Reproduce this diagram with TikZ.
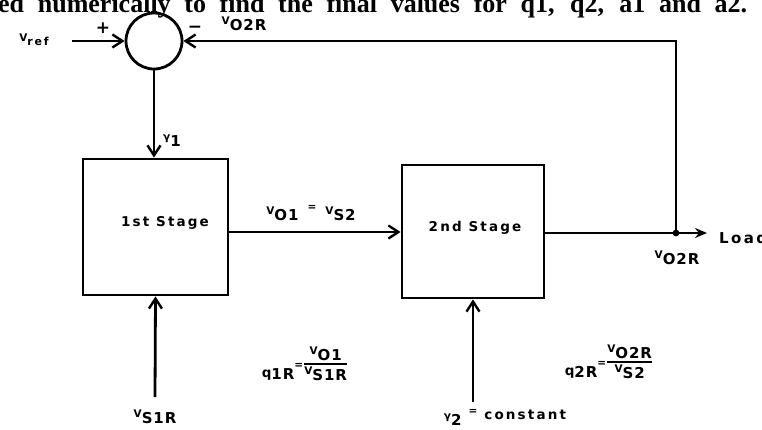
\documentclass[tikz,border=0pt]{standalone}
\usepackage{fontspec}
\usepackage{amsmath}
\usetikzlibrary{arrows.meta}
\newfontfamily\lbl{DejaVu Sans}[LetterSpace=16]
\newfontfamily\sblbl{DejaVu Sans}[LetterSpace=6]
\newfontfamily\toptext{Liberation Serif}
\newcommand\Sb[1]{\raisebox{-6pt}{\fontsize{15}{15}\sblbl\bfseries #1}}
\newcommand\Sm[1]{{\fontsize{10.5}{10.5}\lbl\bfseries #1}}
\newcommand\Vx[1]{\Sm{V}\Sb{#1}}
\tikzset{
  lab/.style={font=\fontsize{13.5}{13.5}\lbl\bfseries, inner sep=0pt},
  blk/.style={draw, line width=2.8pt, inner sep=0pt},
  arr/.style={line width=2.8pt, -{Straight Barb[length=10pt,width=13pt,line width=2.4pt]}},
  wire/.style={line width=2.8pt}
}
\begin{document}
\begin{tikzpicture}[x=1pt,y=-1pt]
\useasboundingbox (0,0) rectangle (762,429);
\clip (0,0) rectangle (762,429);
\fill[white] (0,0) rectangle (762,429);

% cropped line of text from the page above
\node[anchor=base west, inner sep=0pt, font=\fontsize{26}{26}\toptext\bfseries] (toptxt) at (-2,12)
  {\makebox[749pt][s]{ed numerically to find the final values for q1, q2, a1 and a2.}};

% summing junction
\node[circle, draw, line width=2.8pt, minimum size=56pt, inner sep=0pt] (sum) at (154,41) {};
\node[font=\fontsize{17}{17}\lbl\bfseries, inner sep=0pt] (plus) at (103,28) {+};
\node[font=\fontsize{17}{17}\lbl\bfseries, inner sep=0pt] (minus) at (195,29) {−};
\node[lab] (vref) at (34,40) {\Sm{V}\raisebox{-4pt}{\fontsize{11}{11}\lbl\bfseries ref}};
\coordinate (vin) at (72,41);
\node[lab] (vo2rtop) at (244,24) {\Vx{O2R}};

% blocks
\node[blk, minimum width=145pt, minimum height=136pt] (s1) at (155.5,227) {};
\node[lab] (t1) at (165,223) {1st Stage};
\node[blk, minimum width=142pt, minimum height=133pt] (s2) at (473,231.5) {};
\node[lab] (t2) at (475,228) {2nd Stage};

% input arrow and gamma 1
\draw[arr] (vin) -- (sum.west);
\draw[arr] (sum.south) -- (sum.south |- s1.north);
\node[lab] (g1) at (172,141) {\Sm{γ}\Sb{1}};

% between stages
\draw[arr] ([yshift=-5pt]s1.east) -- ([yshift=-5pt]s1.east -| s2.west);
\node[lab] (vo1) at (311,213) {\Vx{O1}\hspace{9pt}\raisebox{4pt}{\Sm{=}}\hspace{9pt}\Vx{S2}};

% output
\coordinate (jn) at (676,233);
\coordinate (out) at (707,233);
\draw[wire, -{Stealth[length=12pt,width=10pt]}] ([yshift=-1.5pt]s2.east) -- (out);
\fill (jn) circle (3.4pt);
\draw[arr] (jn) |- (sum.east);
\node[font=\fontsize{15}{15}\lbl\bfseries, inner sep=0pt, anchor=west] (load) at (719,238) {Load};
\node[lab] (vo2r) at (677,258) {\Vx{O2R}};

% inputs from below
\coordinate (b1) at (155,397);
\draw[arr] (b1) -- (s1.south);
\node[lab] (vs1r) at (155,417) {\Vx{S1R}};
\coordinate (b2) at (473,402);
\draw[arr] (b2) -- (s2.south);
\node[lab] (g2) at (505,417) {\Sm{γ}\Sb{2}\hspace{7pt}\raisebox{5pt}{\Sm{=}}\hspace{7pt}constant};

% gains
\node[lab] (q1) at (305,364)
  {q\raisebox{-2pt}{\fontsize{15}{15}\sblbl\bfseries 1R}\raisebox{9pt}{\Sm{=}}\raisebox{10pt}{$\genfrac{}{}{2pt}{}{\hbox{\Vx{O1}}}{\hbox{\Vx{S1R}}}$}};
\node[lab] (q2) at (609,362)
  {q\raisebox{-2pt}{\fontsize{15}{15}\sblbl\bfseries 2R}\raisebox{9pt}{\Sm{=}}\raisebox{10pt}{$\genfrac{}{}{2pt}{}{\hbox{\Vx{O2R}}}{\hbox{\Vx{S2}}}$}};
\end{tikzpicture}
\end{document}
